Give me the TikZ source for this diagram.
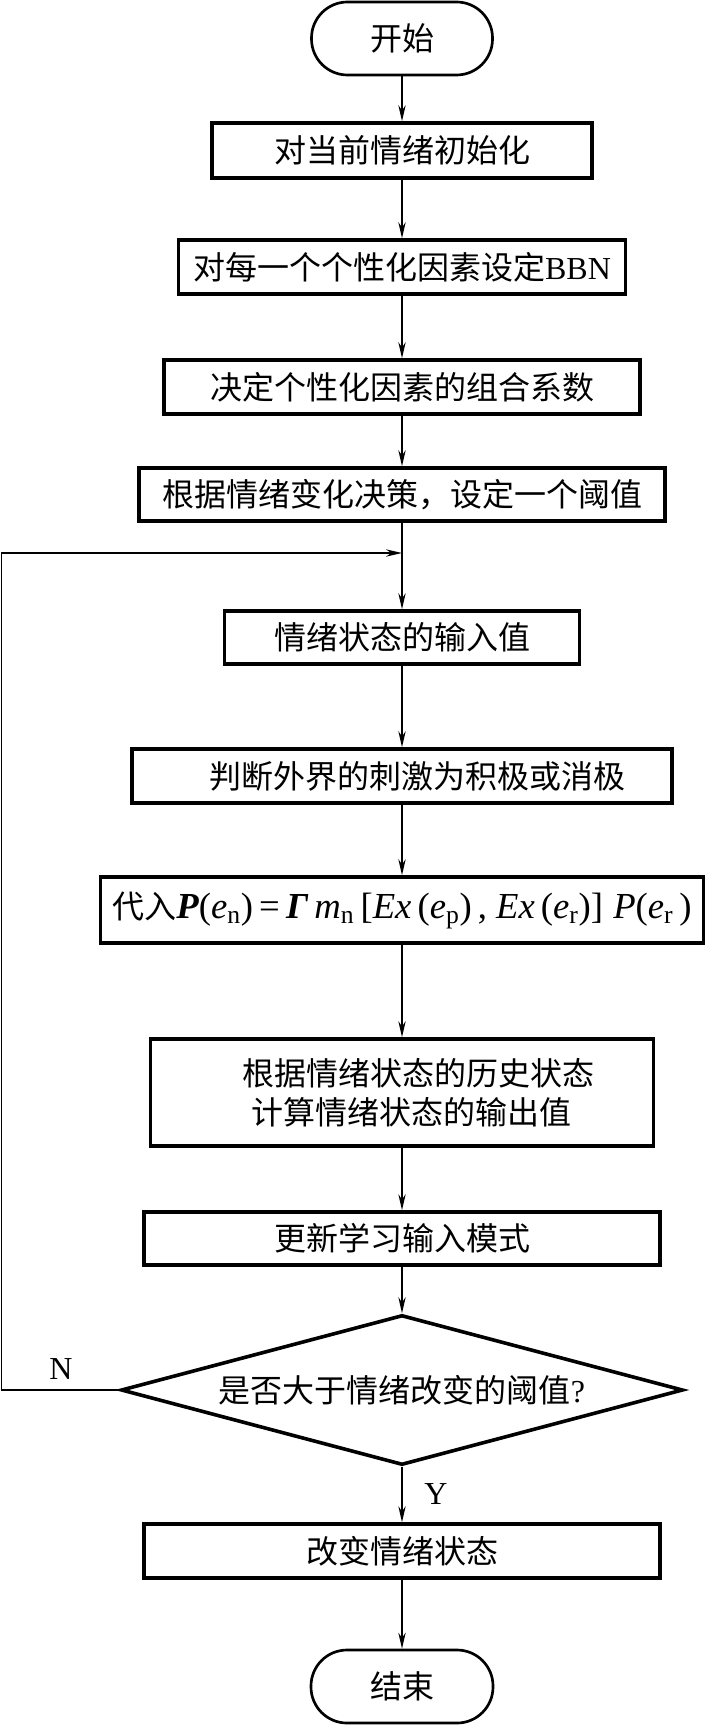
\documentclass[tikz,border=0pt]{standalone}
\usepackage{fontspec}
\setmainfont{Liberation Serif}
\newfontfamily\cjk{Noto Sans CJK SC}
\usetikzlibrary{shapes.geometric,arrows.meta}

\tikzset{every picture/.style={line width=0.75pt}}
\tikzset{
  box/.style={draw, line width=2.7pt, inner sep=0pt, align=center,
    font=\cjk\fontsize{24}{29}\selectfont},
  term/.style={box, line width=2pt, rounded corners=27pt},
  choice/.style={box, diamond, aspect=3.75},
  arr/.style={line width=1.1pt, -{Stealth[length=12pt,width=5.5pt]}},
  lbl/.style={font=\fontsize{24}{28}\selectfont}
}

\begin{document}
\begin{tikzpicture}[x=0.75pt,y=0.75pt,yscale=-1,xscale=1]
%set diagram left start at 0, and has height of 1726
\useasboundingbox (0,0) rectangle (704,1726);

%Shape: Terminal
\node[term, minimum width=135.75pt, minimum height=54.75pt] (start) at (402,38.5) {开始};
%Shape: Rectangle
\node[box, minimum width=285pt, minimum height=41.25pt] (b1) at (402,150.5) {对当前情绪初始化};
\node[box, minimum width=335.25pt, minimum height=40.5pt] (b2) at (402,267) {对每一个个性化因素设定{\rmfamily BBN}};
\node[box, minimum width=357pt, minimum height=40.5pt] (b3) at (402,387) {决定个性化因素的组合系数};
\node[box, minimum width=394.5pt, minimum height=39.75pt] (b4) at (402,494.5) {根据情绪变化决策，设定一个阈值};
\node[box, minimum width=266.25pt, minimum height=39.75pt] (b5) at (402,637.5) {情绪状态的输入值};
\node[box, minimum width=405pt, minimum height=40.5pt] (b6) at (402,776) {\hspace*{22.5pt}判断外界的刺激为积极或消极};
\node[box, minimum width=452.25pt, minimum height=49.5pt] (b7) at (402,910) {代入{\rmfamily\fontsize{27.5}{30}\selectfont\textbf{\textit{P}}(\textit{e}\textsubscript{n})\,=\,\textbf{\textit{Γ}}\,\textit{m}\textsubscript{n}\,[\textit{Ex}\,(\textit{e}\textsubscript{p})\,, \textit{Ex}\,(\textit{e}\textsubscript{r})]\;\textit{P}(\textit{e}\textsubscript{r}\,)}};
\node[box, minimum width=377.25pt, minimum height=80.25pt] (b8) at (402,1092.5) {\hspace*{24pt}根据情绪状态的历史状态\\\hspace*{14pt}计算情绪状态的输出值};
\node[box, minimum width=387pt, minimum height=39.75pt] (b9) at (402,1238.5) {更新学习输入模式};
%Shape: Diamond
\node[choice, minimum width=421.5pt, minimum height=112.5pt] (ask) at (402,1390) {是否大于情绪改变的阈值{\rmfamily ?}};
\node[box, minimum width=387pt, minimum height=40.5pt] (b10) at (402,1551) {改变情绪状态};
\node[term, minimum width=136.5pt, minimum height=54.75pt] (stop) at (402,1686.5) {结束};

%Text Node
\node[lbl] (no) at (61,1369) {N};
\node[lbl] (yes) at (436,1494) {Y};

%Straight Lines
\draw[arr] (start) -- (b1);
\draw[arr] (b1) -- (b2);
\draw[arr] (b2) -- (b3);
\draw[arr] (b3) -- (b4);
\draw[arr] (b4) -- (b5);
\draw[arr] (b5) -- (b6);
\draw[arr] (b6) -- (b7);
\draw[arr] (b7) -- (b8);
\draw[arr] (b8) -- (b9);
\draw[arr] (b9) -- (ask);
\draw[arr] (ask) -- (b10);
\draw[arr] (b10) -- (stop);

%Loop back
\coordinate (rim) at (1.5,553);
\coordinate (join) at (402,553);
\draw[arr] (ask.west) -| (rim) -- (join);
\end{tikzpicture}
\end{document}
